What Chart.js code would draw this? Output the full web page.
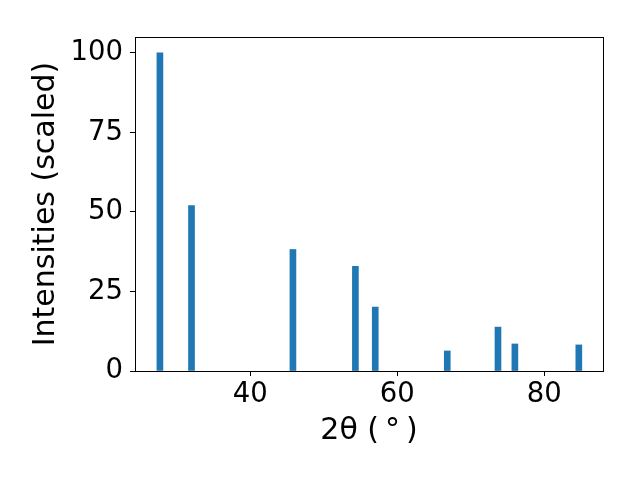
<!DOCTYPE html>
<html>
<head>
<meta charset="utf-8">
<script src="https://cdn.jsdelivr.net/npm/chart.js@4"></script>
<style>
  body { margin: 0; background: #fff; }
  #wrap { width: 640px; height: 480px; }
</style>
</head>
<body>
<div id="wrap"><canvas id="xrd" width="640" height="480"></canvas></div>
<script>
// peak positions (2theta, degrees) and scaled intensities
const twoTheta = [27.7, 32.0, 45.8, 54.3, 57.0, 66.8, 73.7, 76.0, 84.7];
const intensity = [100, 52.0, 38.2, 32.9, 20.1, 6.3, 13.8, 8.5, 8.2];
const xTicks = [40, 60, 80];
const yTicks = [0, 25, 50, 75, 100];

const canvas = document.getElementById('xrd');
const fontFamily = '"DejaVu Sans", sans-serif';

// matplotlib-style box around the axes
const frame = {
  id: 'frame',
  afterDraw(chart) {
    const a = chart.chartArea;
    const ctx = chart.ctx;
    ctx.save();
    ctx.strokeStyle = '#000';
    ctx.lineWidth = 1;
    ctx.strokeRect(Math.round(a.left) + 0.5, Math.round(a.top) + 0.5,
                   Math.round(a.right - a.left), Math.round(a.bottom - a.top));
    ctx.restore();
  }
};

const chart = new Chart(canvas, {
  type: 'bar',
  data: {
    datasets: [{
      data: twoTheta.map((t, i) => ({ x: t, y: intensity[i] })),
      backgroundColor: '#1f77b4',
      borderWidth: 0,
      barThickness: 6
    }]
  },
  options: {
    responsive: false,
    animation: false,
    devicePixelRatio: 1,
    layout: { padding: { top: 37, right: 37, left: 0, bottom: 0 } },
    plugins: { legend: { display: false }, tooltip: { enabled: false } },
    scales: {
      x: {
        type: 'linear',
        offset: false,
        min: 24.31,
        max: 87.99,
        afterBuildTicks: s => { s.ticks = xTicks.map(v => ({ value: v })); },
        afterFit: s => { s.height = 109; },
        grid: { drawOnChartArea: false, color: '#000', tickLength: 5, offset: false },
        border: { display: true, color: '#000' },
        ticks: { color: '#000', font: { family: fontFamily, size: 27.5 }, padding: 2, maxRotation: 0 },
        title: { display: true, text: '2θ (\u2009°\u2009)', color: '#000', font: { family: fontFamily, size: 30 }, padding: { top: 0, bottom: 31 } }
      },
      y: {
        min: 0,
        max: 105,
        afterBuildTicks: s => { s.ticks = yTicks.map(v => ({ value: v })); },
        afterFit: s => { s.width = 135; },
        grid: { drawOnChartArea: false, color: '#000', tickLength: 5 },
        border: { display: true, color: '#000' },
        ticks: { color: '#000', font: { family: fontFamily, size: 27.5 }, padding: 7 },
        title: { display: true, text: 'Intensities (scaled)', color: '#000', font: { family: fontFamily, size: 30 }, padding: { top: 28, bottom: 0 } }
      }
    }
  },
  plugins: [frame]
});
</script>
</body>
</html>
